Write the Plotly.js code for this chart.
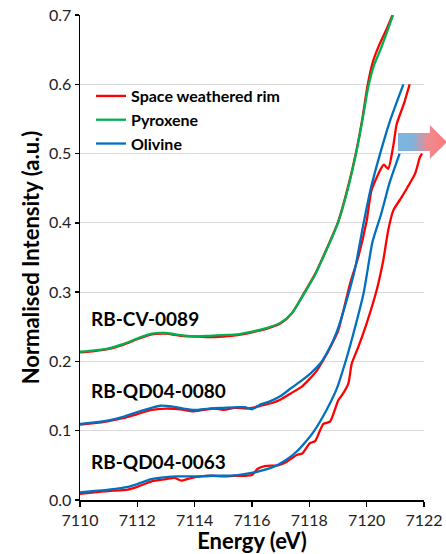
<!DOCTYPE html>
<html>
<head>
<meta charset="utf-8">
<script src="https://cdn.plot.ly/plotly-3.0.1.min.js"></script>
<style>
html,body{margin:0;padding:0;background:#fff;}
#chart{width:446px;height:554px;}
</style>
</head>
<body>
<div id="chart"></div>
<script>
// ---- Data ----
// RB-CV-0089
const cvPyxE = [7110, 7110.5, 7111, 7111.5, 7112, 7112.5, 7113, 7113.5, 7114, 7114.5, 7115, 7115.5, 7116, 7116.5, 7117, 7117.4, 7117.85, 7118.2, 7118.48, 7118.75, 7119.0, 7119.35, 7119.63, 7119.86, 7120.05, 7120.25, 7120.5, 7120.92];
const cvPyxI = [0.214, 0.216, 0.219, 0.225, 0.233, 0.240, 0.241, 0.238, 0.236, 0.237, 0.238, 0.239, 0.243, 0.248, 0.256, 0.270, 0.300, 0.325, 0.350, 0.375, 0.400, 0.450, 0.500, 0.550, 0.595, 0.627, 0.652, 0.700];
const cvRimE = [7110, 7110.5, 7111, 7111.5, 7112, 7112.5, 7113, 7113.5, 7114, 7114.5, 7115, 7115.5, 7116, 7116.5, 7117, 7117.4, 7117.85, 7118.2, 7118.48, 7118.75, 7119.0, 7119.35, 7119.63, 7119.86, 7120.03, 7120.2, 7120.42, 7120.72, 7120.9];
const cvRimI = [0.213, 0.215, 0.218, 0.224, 0.232, 0.239, 0.240, 0.237, 0.236, 0.235, 0.236, 0.238, 0.242, 0.247, 0.255, 0.270, 0.301, 0.326, 0.351, 0.376, 0.401, 0.452, 0.502, 0.553, 0.598, 0.630, 0.655, 0.682, 0.700];

// RB-QD04-0080
const q80OlE = [7110, 7110.5, 7111, 7111.5, 7112, 7112.5, 7112.8, 7113.2, 7113.6, 7114, 7114.5, 7115, 7115.5, 7115.75, 7116, 7116.3, 7116.6, 7117, 7117.35, 7117.75, 7118.1, 7118.4, 7118.7, 7118.95, 7119.3, 7119.6, 7119.88, 7120.14, 7120.47, 7120.82, 7121.28];
const q80OlI = [0.110, 0.112, 0.115, 0.120, 0.127, 0.133, 0.136, 0.135, 0.132, 0.130, 0.132, 0.133, 0.134, 0.134, 0.131, 0.138, 0.142, 0.150, 0.161, 0.173, 0.185, 0.198, 0.219, 0.242, 0.288, 0.335, 0.397, 0.449, 0.500, 0.548, 0.600];
const q80RimE = [7110, 7110.5, 7111, 7111.5, 7112, 7112.5, 7113, 7113.5, 7113.9, 7114.3, 7114.7, 7115, 7115.4, 7115.8, 7116.0, 7116.3, 7116.7, 7117, 7117.4, 7117.75, 7117.97, 7118.25, 7118.49, 7118.75, 7119.01, 7119.2, 7119.42, 7119.71, 7120.0, 7120.17, 7120.47, 7120.6, 7120.75, 7120.92, 7121.05, 7121.3, 7121.5];
const q80RimI = [0.109, 0.111, 0.114, 0.118, 0.124, 0.130, 0.132, 0.131, 0.128, 0.130, 0.132, 0.130, 0.133, 0.132, 0.133, 0.136, 0.140, 0.145, 0.155, 0.164, 0.173, 0.186, 0.202, 0.222, 0.245, 0.275, 0.312, 0.351, 0.403, 0.447, 0.476, 0.484, 0.478, 0.509, 0.543, 0.572, 0.600];

// RB-QD04-0063
const q63OlE = [7110, 7110.5, 7111, 7111.67, 7112, 7112.49, 7113, 7113.42, 7114, 7114.58, 7115, 7115.5, 7115.98, 7116.3, 7116.63, 7116.91, 7117.2, 7117.56, 7117.85, 7118.14, 7118.6, 7118.95, 7119.3, 7119.6, 7119.9, 7120.2, 7120.5, 7120.8, 7121.15];
const q63OlI = [0.011, 0.013, 0.015, 0.019, 0.023, 0.030, 0.033, 0.034, 0.034, 0.035, 0.035, 0.036, 0.039, 0.042, 0.046, 0.051, 0.058, 0.070, 0.083, 0.098, 0.130, 0.160, 0.205, 0.250, 0.300, 0.372, 0.412, 0.458, 0.500];
const q63RimE = [7110, 7110.5, 7111, 7111.67, 7112, 7112.5, 7113, 7113.3, 7113.53, 7113.8, 7114.2, 7114.6, 7115, 7115.4, 7115.8, 7116.0, 7116.2, 7116.45, 7116.9, 7117.2, 7117.56, 7117.75, 7118.02, 7118.2, 7118.49, 7118.72, 7119.01, 7119.15, 7119.36, 7119.48, 7119.71, 7120.0, 7120.35, 7120.58, 7120.75, 7120.93, 7121.22, 7121.42, 7121.69, 7121.86, 7121.93];
const q63RimI = [0.009, 0.011, 0.013, 0.015, 0.019, 0.027, 0.030, 0.032, 0.028, 0.031, 0.034, 0.035, 0.034, 0.035, 0.035, 0.036, 0.045, 0.049, 0.050, 0.055, 0.065, 0.067, 0.082, 0.085, 0.110, 0.113, 0.144, 0.152, 0.168, 0.197, 0.221, 0.255, 0.303, 0.346, 0.389, 0.418, 0.437, 0.451, 0.471, 0.495, 0.500];

const seriesNames = ['Space weathered rim', 'Pyroxene', 'Olivine'];
const sampleLabels = ['RB-CV-0089', 'RB-QD04-0080', 'RB-QD04-0063'];
const sampleLabelY = [0.262, 0.158, 0.055];
const xTicks = [7110, 7112, 7114, 7116, 7118, 7120, 7122];
const yTicks = [0.0, 0.1, 0.2, 0.3, 0.4, 0.5, 0.6, 0.7];

const RED = '#ff0000', GREEN = '#00b050', BLUE = '#0070c0';
const FONT = 'Lato, "Open Sans", sans-serif';
const LW = 2.3;

function tr(x, y, name, color, show) {
  return {
    x: x, y: y, type: 'scatter', mode: 'lines', name: name,
    legendgroup: name, showlegend: show,
    line: {color: color, width: LW, shape: 'spline', smoothing: 0.6},
    hoverinfo: 'skip'
  };
}

const traces = [
  tr(cvRimE, cvRimI, seriesNames[0], RED, true),
  tr(q80RimE, q80RimI, seriesNames[0], RED, false),
  tr(q63RimE, q63RimI, seriesNames[0], RED, false),
  tr(cvPyxE, cvPyxI, seriesNames[1], GREEN, true),
  tr(q80OlE, q80OlI, seriesNames[2], BLUE, true),
  tr(q63OlE, q63OlI, seriesNames[2], BLUE, false)
];

const arrowSvg = '<svg xmlns="http://www.w3.org/2000/svg" width="49" height="34" viewBox="0 0 49 34" preserveAspectRatio="none">' +
  '<defs><linearGradient id="g" x1="0" x2="1" y1="0" y2="0">' +
  '<stop offset="0" stop-color="#7db4de"/><stop offset="0.3" stop-color="#80b3dc"/>' +
  '<stop offset="0.62" stop-color="#f08a8e"/><stop offset="1" stop-color="#f87c7c"/></linearGradient></defs>' +
  '<polygon points="0,8 32,8 32,0 49,17 32,34 32,26 0,26" fill="url(#g)"/></svg>';
const arrowSrc = 'data:image/svg+xml;charset=utf-8,' + encodeURIComponent(arrowSvg);

const annotations = sampleLabels.map((t, i) => ({
  text: t, x: 7110.3, y: sampleLabelY[i], xref: 'x', yref: 'y',
  xanchor: 'left', yanchor: 'middle', showarrow: false,
  font: {family: FONT, size: 19, color: '#000', weight: 'bold'}
}));

const layout = {
  width: 446, height: 554,
  margin: {l: 80, r: 22, t: 15, b: 54, pad: 0},
  paper_bgcolor: '#fff', plot_bgcolor: '#fff',
  showlegend: true,
  legend: {
    x: 0.032, y: 0.868, xanchor: 'left', yanchor: 'top',
    bgcolor: 'rgba(0,0,0,0)', borderwidth: 0, tracegroupgap: 0,
    itemwidth: 30,
    font: {family: FONT, size: 16, color: '#000', weight: 'bold'}
  },
  xaxis: {
    range: [7110, 7122], tickvals: xTicks, ticktext: xTicks.map(String),
    showgrid: false, zeroline: false,
    showline: true, linecolor: '#000', linewidth: 1.5,
    ticks: 'outside', ticklen: 5, tickwidth: 1.3, tickcolor: '#000',
    tickfont: {family: FONT, size: 16, color: '#222'},
    title: {text: 'Energy (eV)', standoff: 6, font: {family: FONT, size: 22, color: '#000', weight: 'bold'}}
  },
  yaxis: {
    range: [0, 0.7], tickvals: yTicks, ticktext: yTicks.map(v => v.toFixed(1)),
    showgrid: true, gridcolor: '#d9d9d9', gridwidth: 1, zeroline: false,
    showline: true, linecolor: '#000', linewidth: 1.5,
    ticks: 'outside', ticklen: 4, tickwidth: 1.3, tickcolor: '#000',
    tickfont: {family: FONT, size: 16, color: '#222'},
    title: {text: 'Normalised Intensity (a.u.)', standoff: 3, font: {family: FONT, size: 22, color: '#000', weight: 'bold'}}
  },
  annotations: annotations,
  images: [{
    source: arrowSrc, xref: 'paper', yref: 'paper',
    x: 0.924, y: 0.773, sizex: 0.1425, sizey: 0.070,
    xanchor: 'left', yanchor: 'top', sizing: 'stretch', layer: 'above'
  }]
};

Plotly.newPlot('chart', traces, layout, {displayModeBar: false, staticPlot: true});
</script>
</body>
</html>
